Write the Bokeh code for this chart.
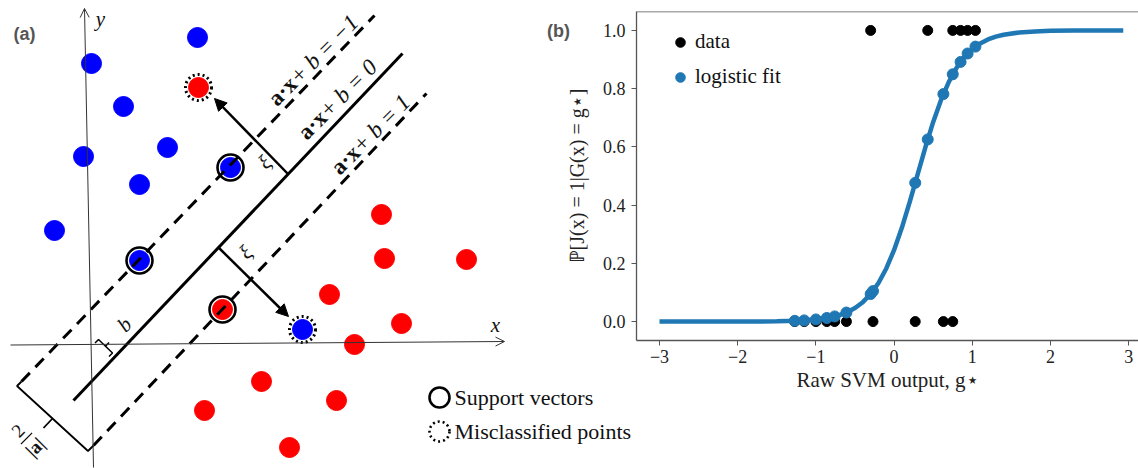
from bokeh.plotting import figure
from bokeh.layouts import row
from bokeh.models import (Range1d, Arrow, OpenHead, NormalHead, Legend, LegendItem,
                          FixedTicker, Span, PrintfTickFormatter)
from bokeh.core.properties import value
from bokeh.embed import file_html
from bokeh.resources import INLINE

SERIF = "Liberation Serif"

# ---------------- panel (a): SVM diagram (diagram units = pixels, y downward) ----------------
blue_x = [197, 91, 123, 167, 83, 139, 54, 230, 139, 302]
blue_y = [37, 63, 106, 147, 156, 184, 230, 167, 260, 329]
red_x = [198, 381, 384, 466, 329, 401, 354, 261, 336, 204, 289, 222]
red_y = [87, 214, 258, 259, 294, 323, 344, 381, 400, 410, 447, 309]
sv_x = [230, 139, 222]          # support vectors
sv_y = [167, 260, 309]
mis_x = [198, 302]              # misclassified points
mis_y = [87, 329]

plane0_x, plane0_y = [73, 402], [400, 53]        # a.x+b=0
planem1_x, planem1_y = [21, 374], [381, 15]      # a.x+b=-1
planep1_x, planep1_y = [93, 426], [445, 93]      # a.x+b=1

axis_x = ([10, 504], [344.5, 341])
axis_y = ([93, 84], [467, 8])
xi_up = ([287, 214], [173, 98])
xi_dn = ([218, 288], [247, 316])
margin_bracket = ([21, 16.5, 87.5, 93], [381, 385.5, 450.5, 445])
margin_tick = ([52, 43], [418, 427.5])
b_bracket = ([94.5, 98, 112, 108.5], [342.5, 339, 352.5, 356])
b_tick = ([105, 108.5], [345.7, 342])
frac_bar = ([20.4, 31.6], [443.7, 432.3])

plane_label_x = [292.9, 322.7, 355.7]
plane_label_y = [79.8, 113.5, 148.5]
plane_label_rhs = ["+ b = \u22121", "+ b = 0", "+ b = 1"]

legend_a_labels = ["Support vectors", "Misclassified points"]

# ---------------- panel (b): logistic calibration ----------------
data_g = [-0.30, 0.43, 0.75, 0.85, 0.94, 1.04,
          -1.27, -1.15, -1.00, -0.86, -0.76, -0.61, -0.27, 0.27, 0.63, 0.75]
data_label = [1, 1, 1, 1, 1, 1,
              0, 0, 0, 0, 0, 0, 0, 0, 0, 0]
fit_g = [-1.27, -1.15, -1.00, -0.86, -0.76, -0.61, -0.30, -0.27, 0.27, 0.43,
         0.63, 0.75, 0.85, 0.94, 1.04]
fit_p = [0.0026, 0.0041, 0.0073, 0.0123, 0.0178, 0.0311, 0.0945, 0.1047, 0.4765, 0.6257,
         0.7814, 0.8494, 0.8919, 0.9207, 0.9444]
curve_g = [-3.0, -2.5, -2.0, -1.75, -1.5, -1.25, -1.0, -0.8, -0.7, -0.6, -0.5, -0.4, -0.3,
           -0.2, -0.1, 0.0, 0.1, 0.2, 0.3, 0.4, 0.5, 0.6, 0.7, 0.8, 0.9, 1.0, 1.1, 1.2,
           1.3, 1.4, 1.6, 1.8, 2.0, 2.3, 2.6, 2.93]
curve_p = [0.0, 0.00002, 0.0002, 0.0004, 0.0011, 0.0028, 0.0073, 0.0154, 0.0223, 0.0323,
           0.0465, 0.0666, 0.0945, 0.1324, 0.1824, 0.2460, 0.3230, 0.4110, 0.5050, 0.5987,
           0.6857, 0.7613, 0.8235, 0.8721, 0.9089, 0.9358, 0.9553, 0.9689, 0.9785, 0.9852,
           0.9930, 0.9967, 0.9985, 0.9995, 0.9998, 1.0]
x_ticks = [-3, -2, -1, 0, 1, 2, 3]
x_tick_labels = ["\u22123", "\u22122", "\u22121", "0", "1", "2", "3"]
y_ticks = [0.0, 0.2, 0.4, 0.6, 0.8, 1.0]

# =============== figure (a) ===============
pa = figure(width=640, height=468, x_range=Range1d(0, 640), y_range=Range1d(468, 0),
            x_axis_location=None, y_axis_location=None, toolbar_location=None,
            output_backend="svg", min_border=0, outline_line_color=None,
            frame_align=False)
pa.grid.grid_line_color = None

pa.scatter(blue_x, blue_y, size=20, color="#0000ff")
pa.scatter(red_x, red_y, size=20, color="#ff0000")

pa.line(plane0_x, plane0_y, line_width=3, color="black")
pa.line(planem1_x, planem1_y, line_width=3, color="black", line_dash="12 8")
pa.line(planep1_x, planep1_y, line_width=3, color="black", line_dash="12 8")

pa.scatter(sv_x, sv_y, size=26, fill_color=None, line_color="black", line_width=2.6)
pa.scatter(mis_x, mis_y, size=26, fill_color=None, line_color="black", line_width=3,
           line_dash="2 3")

pa.line(*margin_bracket, line_width=1.8, color="black")
pa.line(*margin_tick, line_width=1.8, color="black")
pa.line(*b_bracket, line_width=1.5, color="black")
pa.line(*b_tick, line_width=1.5, color="black")
pa.line(*frac_bar, line_width=1.2, color="black")

pa.add_layout(Arrow(end=OpenHead(size=9, line_width=1, line_color="#333333"),
                    x_start=axis_x[0][0], y_start=axis_x[1][0],
                    x_end=axis_x[0][1], y_end=axis_x[1][1],
                    line_width=1, line_color="#333333"))
pa.add_layout(Arrow(end=OpenHead(size=9, line_width=1, line_color="#333333"),
                    x_start=axis_y[0][0], y_start=axis_y[1][0],
                    x_end=axis_y[0][1], y_end=axis_y[1][1],
                    line_width=1, line_color="#333333"))
for seg in (xi_up, xi_dn):
    pa.add_layout(Arrow(end=NormalHead(size=12, fill_color="black", line_color="black"),
                        x_start=seg[0][0], y_start=seg[1][0],
                        x_end=seg[0][1], y_end=seg[1][1],
                        line_width=2.5, line_color="black"))

ANG = 0.79
pa.text(plane_label_x, plane_label_y, text=["a\u00b7x"] * 3, angle=ANG,
        text_font=value(SERIF), text_font_size="23px", text_font_style="bold",
        text_align="right", text_baseline="middle", text_color="#111111")
pa.text(plane_label_x, plane_label_y, text=[" " + t for t in plane_label_rhs], angle=ANG,
        text_font=value(SERIF), text_font_size="23px", text_font_style="italic",
        text_align="left", text_baseline="middle", text_color="#111111")

pa.text([264, 245], [162, 252], text=["\u03be", "\u03be"], angle=ANG,
        text_font=value(SERIF), text_font_size="21px", text_font_style="italic",
        text_align="center", text_baseline="middle", text_color="#111111")
pa.text([124], [324], text=["b"], angle=ANG, text_font=value(SERIF),
        text_font_size="21px", text_font_style="italic",
        text_align="center", text_baseline="middle", text_color="#111111")
pa.text([17.5], [430], text=["2"], angle=ANG, text_font=value(SERIF),
        text_font_size="19px", text_align="center", text_baseline="middle",
        text_color="#111111")
pa.text([34.5], [446.5], text=["|a|"], angle=ANG, text_font=value(SERIF),
        text_font_size="19px", text_font_style="bold", text_align="center",
        text_baseline="middle", text_color="#111111")
pa.text([100, 495], [18, 324], text=["y", "x"], text_font=value(SERIF),
        text_font_size="21px", text_font_style="italic",
        text_align="center", text_baseline="middle", text_color="#111111")

# legend of panel (a)
pa.scatter([439], [397], size=20, fill_color=None, line_color="black", line_width=2.6)
pa.scatter([439], [431], size=20, fill_color=None, line_color="black", line_width=2.6,
           line_dash="2 3")
pa.text([454, 454], [397, 431], text=legend_a_labels, text_font=value(SERIF),
        text_font_size="22px", text_align="left", text_baseline="middle",
        text_color="#111111")

# panel letters
pa.text([24, 558], [33, 30], text=["(a)", "(b)"], text_font=value("Liberation Sans"),
        text_font_size="18px", text_font_style="bold", text_align="center",
        text_baseline="middle", text_color="#555555")

# =============== figure (b) ===============
pb = figure(width=598, height=468, x_range=Range1d(-3.294, 3.125),
            y_range=Range1d(-0.065, 1.065), toolbar_location=None, output_backend="svg",
            min_border_left=96, min_border_right=0, min_border_top=11,
            min_border_bottom=128, margin=(0, 0, 0, -100), frame_align=False,
            background_fill_color=None, border_fill_color=None, outline_line_color=None)
pb.grid.grid_line_color = None

r_data = pb.scatter(data_g, data_label, size=10, color="black")
pb.line(curve_g, curve_p, line_width=4.5, color="#1f77b4")
r_fit = pb.scatter(fit_g, fit_p, size=11, color="#1f77b4")

pb.add_layout(Span(location=1.065, dimension="width", line_color="#555555", line_width=1.3))

pb.xaxis.ticker = FixedTicker(ticks=x_ticks)
pb.xaxis.major_label_overrides = {t: s for t, s in zip(x_ticks, x_tick_labels)}
pb.yaxis.ticker = FixedTicker(ticks=y_ticks)
pb.yaxis.formatter = PrintfTickFormatter(format="%.1f")
pb.xaxis.axis_label = "Raw SVM output, g\u22c6"
pb.yaxis.axis_label = "\u2119[J(x) = 1|G(x) = g\u22c6]"
for ax in (pb.xaxis[0], pb.yaxis[0]):
    ax.axis_line_color = "#555555"
    ax.axis_line_width = 1.3
    ax.major_tick_line_color = "#555555"
    ax.major_tick_out = 5
    ax.major_tick_in = 0
    ax.minor_tick_line_color = None
    ax.major_label_text_font = SERIF
    ax.major_label_text_font_size = "18px"
    ax.major_label_text_color = "#222222"
    ax.axis_label_text_font = SERIF
    ax.axis_label_text_font_style = "normal"
    ax.axis_label_text_color = "#222222"
pb.xaxis.major_label_standoff = 4
pb.xaxis.axis_label_standoff = 2
pb.xaxis.axis_label_text_font_size = "21px"
pb.yaxis.major_label_standoff = 6
pb.yaxis.axis_label_standoff = 12
pb.yaxis.axis_label_text_font_size = "20px"

legend = Legend(items=[LegendItem(label="data", renderers=[r_data]),
                       LegendItem(label="logistic fit", renderers=[r_fit])],
                location=(32, 251), border_line_color=None, background_fill_alpha=0,
                padding=0, spacing=10, glyph_width=24, glyph_height=24, label_standoff=3,
                label_text_font=SERIF, label_text_font_size="21px", margin=0,
                label_text_color="#111111")
pb.add_layout(legend)

layout = row(pa, pb)
open("out.html", "w").write(file_html(layout, INLINE))
